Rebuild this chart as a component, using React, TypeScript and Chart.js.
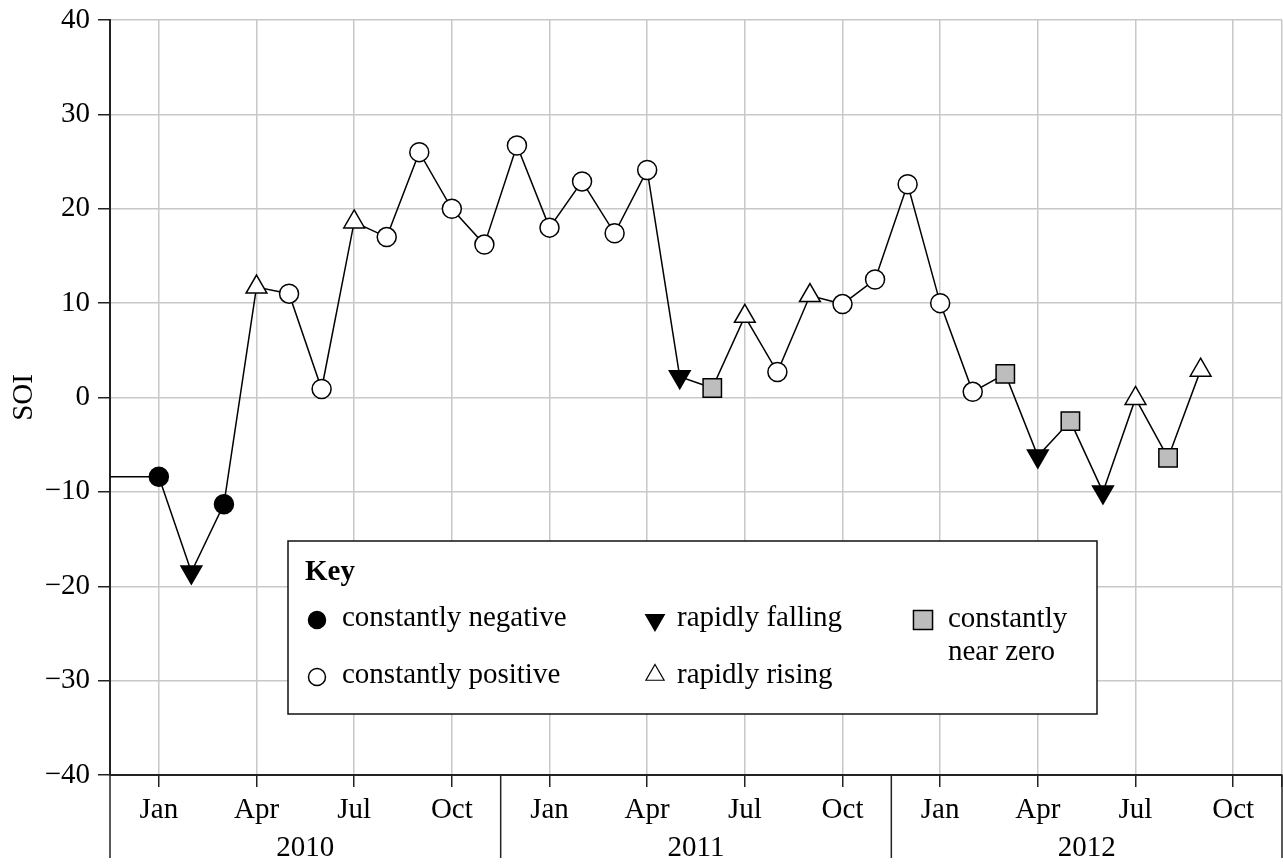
import React, { useEffect, useRef } from 'react';
import { Chart, registerables } from 'chart.js';
import { drawPoint } from 'chart.js/helpers';

Chart.register(...registerables);

// ---- data ----
const months = [
  '2009-11', '2009-12',
  '2010-01', '2010-02', '2010-03', '2010-04', '2010-05', '2010-06',
  '2010-07', '2010-08', '2010-09', '2010-10', '2010-11', '2010-12',
  '2011-01', '2011-02', '2011-03', '2011-04', '2011-05', '2011-06',
  '2011-07', '2011-08', '2011-09', '2011-10', '2011-11', '2011-12',
  '2012-01', '2012-02', '2012-03', '2012-04', '2012-05', '2012-06',
  '2012-07', '2012-08', '2012-09',
];
const soi = [
  -8.4, -8.4,
  -8.4, -18.5, -11.3, 11.7, 11.0, 0.9, 18.6, 17.0, 26.0, 20.0, 16.2, 26.7,
  18.0, 22.9, 17.4, 24.1, 2.2, 1.0, 8.6, 2.7, 10.8, 9.9, 12.5, 22.6,
  10.0, 0.6, 2.5, -6.2, -2.5, -10.0, -0.1, -6.4, 2.9,
];
const phase = [
  '', '',
  'neg', 'fall', 'neg', 'rise', 'pos', 'pos', 'rise', 'pos', 'pos', 'pos', 'pos', 'pos',
  'pos', 'pos', 'pos', 'pos', 'fall', 'zero', 'rise', 'pos', 'rise', 'pos', 'pos', 'pos',
  'pos', 'pos', 'zero', 'fall', 'zero', 'fall', 'rise', 'zero', 'rise',
];
const tickMonthNames = ['Jan', 'Apr', 'Jul', 'Oct'];
const years = ['2010', '2011', '2012'];
const baseYear = 2010;
const yTicks = [-40, -30, -20, -10, 0, 10, 20, 30, 40];
const legendItems = [
  { key: 'neg', lines: ['constantly negative'] },
  { key: 'pos', lines: ['constantly positive'] },
  { key: 'fall', lines: ['rapidly falling'] },
  { key: 'rise', lines: ['rapidly rising'] },
  { key: 'zero', lines: ['constantly', 'near zero'] },
];

// ---- styles ----
const FONT = '"Liberation Serif", "Times New Roman", serif';
const FS = 29;
const GREY = '#bdbdbd';
const styleMap: Record<string, { style: string; rot: number; r: number; fill: string }> = {
  '': { style: 'circle', rot: 0, r: 0, fill: '#fff' },
  neg: { style: 'circle', rot: 0, r: 9.5, fill: '#000' },
  pos: { style: 'circle', rot: 0, r: 9.5, fill: '#fff' },
  fall: { style: 'triangle', rot: 180, r: 12, fill: '#000' },
  rise: { style: 'triangle', rot: 0, r: 12, fill: '#fff' },
  zero: { style: 'rect', rot: 0, r: 13, fill: GREY },
};

const monthIndex = (m: string) => {
  const [y, mo] = m.split('-').map(Number);
  return (y - baseYear) * 12 + (mo - 1);
};

const X_MIN = -1.5;
const X_MAX = years.length * 12 - 1.5;

const overlayPlugin = {
  id: 'overlay',
  afterDatasetsDraw(chart: any) {
    const ctx = chart.ctx;
    ctx.save();
    // legend box
    const bx = 288, by = 541, bw = 809, bh = 173;
    ctx.fillStyle = '#fff';
    ctx.fillRect(bx, by, bw, bh);
    ctx.strokeStyle = '#111';
    ctx.lineWidth = 1.5;
    ctx.strokeRect(bx, by, bw, bh);
    ctx.fillStyle = '#000';
    ctx.textBaseline = 'alphabetic';
    ctx.textAlign = 'left';
    ctx.font = `bold ${FS}px ${FONT}`;
    ctx.fillText('Key', 305, 580);
    ctx.font = `${FS}px ${FONT}`;
    const pos: Record<string, { mx: number; my: number; tx: number; ty: number }> = {
      neg: { mx: 317, my: 620, tx: 342, ty: 626 },
      pos: { mx: 317, my: 677, tx: 342, ty: 683 },
      fall: { mx: 655, my: 620, tx: 677, ty: 626 },
      rise: { mx: 655, my: 675, tx: 677, ty: 683 },
      zero: { mx: 923, my: 620, tx: 948, ty: 627 },
    };
    legendItems.forEach((it) => {
      const p = pos[it.key];
      const s = styleMap[it.key];
      ctx.fillStyle = s.fill;
      ctx.strokeStyle = '#000';
      ctx.lineWidth = it.key === 'rise' ? 1.2 : 1.5;
      const r = it.key === 'zero' ? 13.5 : it.key === 'neg' || it.key === 'pos' ? 8.5 : 10.5;
      drawPoint(ctx, { pointStyle: s.style as any, rotation: s.rot, radius: r, borderWidth: 1.5 }, p.mx, p.my);
      ctx.fillStyle = '#000';
      it.lines.forEach((ln, i) => ctx.fillText(ln, p.tx, p.ty + i * 33));
    });
    ctx.restore();
  },
  afterDraw(chart: any) {
    const ctx = chart.ctx;
    const xs = chart.scales.x;
    const bottom = chart.chartArea.bottom;
    ctx.save();
    ctx.strokeStyle = '#222';
    ctx.lineWidth = 1.5;
    for (let i = 0; i <= years.length; i++) {
      const px = Math.min(xs.getPixelForValue(X_MIN + i * 12), chart.width - 1);
      ctx.beginPath();
      ctx.moveTo(px, bottom);
      ctx.lineTo(px, bottom + 83);
      ctx.stroke();
    }
    ctx.fillStyle = '#000';
    ctx.font = `${FS}px ${FONT}`;
    ctx.textAlign = 'center';
    ctx.textBaseline = 'alphabetic';
    years.forEach((y, i) => {
      const px = xs.getPixelForValue(X_MIN + i * 12 + 6);
      ctx.fillText(y, px, bottom + 81);
    });
    ctx.restore();
  },
};

export default function App() {
  const ref = useRef<HTMLCanvasElement>(null);
  useEffect(() => {
    if (!ref.current) return;
    const data = months.map((m, i) => ({ x: monthIndex(m), y: soi[i] }));
    const tickVals: number[] = [];
    for (let v = 0; v < X_MAX; v += 3) tickVals.push(v);
    tickVals.push(X_MAX);
    const chart = new Chart(ref.current, {
      type: 'line',
      data: {
        datasets: [
          {
            data,
            borderColor: '#000',
            borderWidth: 1.5,
            tension: 0,
            pointStyle: phase.map((p) => styleMap[p].style) as any,
            pointRotation: phase.map((p) => styleMap[p].rot),
            pointRadius: phase.map((p) => styleMap[p].r),
            pointBackgroundColor: phase.map((p) => styleMap[p].fill),
            pointBorderColor: '#000',
            pointBorderWidth: 1.5,
          },
        ],
      },
      options: {
        responsive: false,
        animation: false,
        events: [],
        layout: { autoPadding: false, padding: { top: 20, right: 1, left: 0, bottom: 0 } },
        plugins: { legend: { display: false }, tooltip: { enabled: false } },
        scales: {
          x: {
            type: 'linear',
            min: X_MIN,
            max: X_MAX,
            afterBuildTicks: (s: any) => {
              s.ticks = tickVals.map((v) => ({ value: v }));
            },
            afterFit: (s: any) => {
              s.height = 89;
              s.paddingLeft = 0;
              s.paddingRight = 0;
            },
            grid: { color: '#c8c8c8', lineWidth: 1.5, tickLength: 12, tickColor: '#222', tickWidth: 1.5 },
            border: { color: '#222', width: 2 },
            ticks: {
              autoSkip: false,
              maxRotation: 0,
              padding: 6,
              color: '#000',
              font: { family: FONT, size: FS },
              callback: (v: any) => {
                const n = Number(v);
                if (n < 0 || n % 3 !== 0) return '';
                return tickMonthNames[(n / 3) % 4];
              },
            },
          },
          y: {
            min: yTicks[0],
            max: yTicks[yTicks.length - 1],
            afterBuildTicks: (s: any) => {
              s.ticks = yTicks.map((v) => ({ value: v }));
            },
            afterFit: (s: any) => {
              s.width = 110;
              s.paddingTop = 0;
              s.paddingBottom = 0;
            },
            grid: { color: '#c8c8c8', lineWidth: 1.5, tickLength: 12, tickColor: '#222', tickWidth: 1.5 },
            border: { color: '#222', width: 2 },
            title: {
              display: true,
              text: 'SOI',
              color: '#000',
              font: { family: FONT, size: FS },
              padding: { top: 7, bottom: 0 },
            },
            ticks: {
              padding: 8,
              color: '#000',
              font: { family: FONT, size: FS },
              callback: (v: any) => String(v).replace('-', '\u2212'),
            },
          },
        },
      },
      plugins: [overlayPlugin],
    });
    return () => chart.destroy();
  }, []);
  return (
    <div style={{ position: 'absolute', left: 0, top: 0, width: 1283, height: 864, background: '#fff' }}>
      <canvas ref={ref} width={1283} height={864} style={{ display: 'block' }} />
    </div>
  );
}
